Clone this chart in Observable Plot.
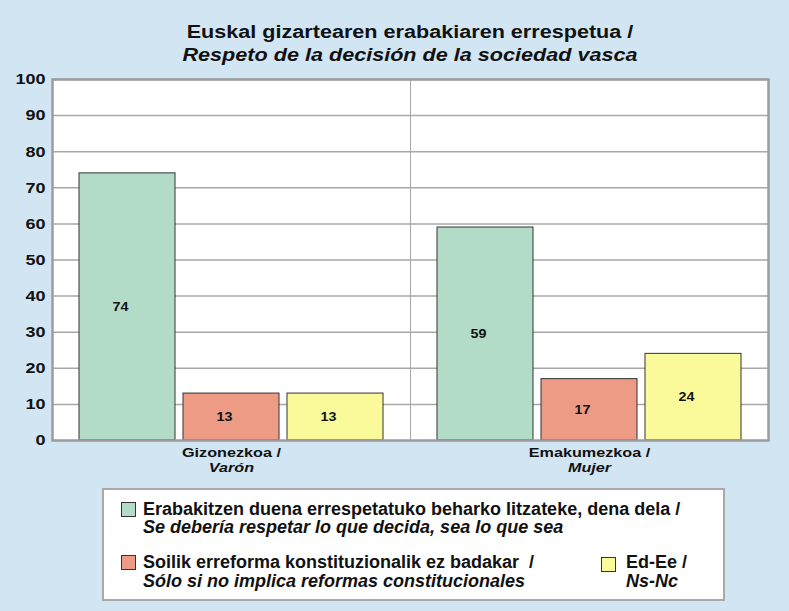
<!DOCTYPE html>
<html>
<head>
<meta charset="utf-8">
<script src="https://cdn.jsdelivr.net/npm/d3@7"></script>
<script src="https://cdn.jsdelivr.net/npm/@observablehq/plot@0.6"></script>
<style>
  html, body { margin: 0; padding: 0; }
  body { width: 789px; height: 611px; background: #d1e5f3; font-family: "Liberation Sans", Arial, sans-serif; position: relative; overflow: hidden; }
  #title { position: absolute; left: 0; top: 21px; width: 820px; text-align: center; font-weight: bold; font-size: 18px; line-height: 23px; color: #111; transform: scaleX(1.2); transform-origin: 50% 50%; }
  #title .es { font-style: italic; }
  #chart { position: absolute; left: 0; top: 72px; }
  #legend { position: absolute; left: 102px; top: 488px; width: 619px; height: 109px; background: #fff; border: 2px solid #a9a9a9; }
  .item { position: absolute; font-weight: bold; font-size: 18px; line-height: 18.5px; color: #111; white-space: pre; }
  .item .es { font-style: italic; }
  .sw { position: absolute; width: 13px; height: 13px; border: 1px solid #333; }
</style>
</head>
<body>
<div id="title"></div>
<div id="chart"></div>
<div id="legend"></div>
<script>
// ---- data ----
const titleEu = "Euskal gizartearen erabakiaren errespetua /";
const titleEs = "Respeto de la decisión de la sociedad vasca";
const groups = ["Gizonezkoa", "Emakumezkoa"];
const groupLabelsEu = ["Gizonezkoa /", "Emakumezkoa /"];
const groupLabelsEs = ["Varón", "Mujer"];
const seriesKeys = ["respect", "reform", "nsnc"];
const seriesEu = ["Erabakitzen duena errespetatuko beharko litzateke, dena dela /", "Soilik erreforma konstituzionalik ez badakar  /", "Ed-Ee /"];
const seriesEs = ["Se debería respetar lo que decida, sea lo que sea", "Sólo si no implica reformas constitucionales", "Ns-Nc"];
const seriesColors = ["#b3dcc8", "#ed9b85", "#fbfa9a"];
const respectValues = [74, 59];
const reformValues = [13, 17];
const nsncValues = [13, 24];
const yTicks = [0, 10, 20, 30, 40, 50, 60, 70, 80, 90, 100];

// ---- build table ----
const valuesBySeries = [respectValues, reformValues, nsncValues];
const data = [];
groups.forEach((g, gi) => seriesKeys.forEach((s, si) => data.push({group: g, series: s, value: valuesBySeries[si][gi]})));
const groupRows = groups.map((g, i) => ({group: g, eu: groupLabelsEu[i], es: groupLabelsEs[i]}));

// ---- title ----
document.getElementById("title").innerHTML = `<div>${titleEu}</div><div class="es">${titleEs}</div>`;

// ---- chart ----
const chart = Plot.plot({
  width: 789,
  height: 408,
  marginLeft: 52,
  marginRight: 21,
  marginTop: 7,
  marginBottom: 40,
  style: {background: "transparent", fontFamily: "Liberation Sans, Arial, sans-serif", fontSize: "15px", fontWeight: "bold", color: "#111", overflow: "visible"},
  fx: {domain: groups, padding: 0, axis: null, label: null},
  x: {domain: seriesKeys, paddingInner: 0.076, paddingOuter: 0.243, axis: null},
  y: {domain: [0, 100], ticks: yTicks, tickSize: 0, tickPadding: 7, label: null},
  color: {domain: seriesKeys, range: seriesColors},
  marks: [
    Plot.frame({fill: "#fff"}),
    Plot.ruleY(yTicks.slice(1), {stroke: "#a7a7a7", strokeWidth: 1.5, strokeOpacity: 1}),
    Plot.frame({stroke: "#a9a9a9", strokeWidth: 1}),
    Plot.barY(data, {fx: "group", x: "series", y: "value", fill: "series", stroke: "#333", strokeWidth: 1, inset: 0}),
    Plot.text(data, {fx: "group", x: "series", y: d => d.value / 2, text: d => String(d.value), dx: -7, fontSize: 13, fontWeight: "bold", fill: "#111"}),
    Plot.text(groupRows, {fx: "group", frameAnchor: "bottom", dy: 16, text: "eu", fontSize: 13.5, fontWeight: "bold", fill: "#111"}),
    Plot.text(groupRows, {fx: "group", frameAnchor: "bottom", dy: 31, text: "es", fontSize: 13.5, fontWeight: "bold", fontStyle: "italic", fill: "#111"}),
    Plot.frame({facet: "super", stroke: "#9c9c9c", strokeWidth: 2.5})
  ]
});
document.getElementById("chart").appendChild(chart);

// widen the SVG glyphs horizontally (about each text's own anchor point)
chart.querySelectorAll("text").forEach(el => {
  const t = el.textContent.trim();
  if (!t) return;
  const inAxis = el.closest('g[aria-label="y-axis tick label"]');
  const k = (!inAxis && /^\d+$/.test(t)) ? 1.1 : 1.2;
  const tr = el.getAttribute("transform");
  if (tr) {
    el.setAttribute("transform", tr + ` scale(${k},1)`);
  } else {
    const x = +el.getAttribute("x") || 0, y = +el.getAttribute("y") || 0;
    el.removeAttribute("x"); el.removeAttribute("y");
    el.setAttribute("transform", `translate(${x},${y}) scale(${k},1)`);
  }
});

// ---- legend ----
const legend = document.getElementById("legend");
const pos = [
  {sx: 17, sy: 12, tx: 39, ty: 9.5},
  {sx: 17, sy: 65, tx: 39, ty: 63},
  {sx: 497, sy: 67, tx: 522, ty: 63}
];
seriesKeys.forEach((s, i) => {
  const p = pos[i];
  const sw = document.createElement("div");
  sw.className = "sw";
  sw.style.left = p.sx + "px"; sw.style.top = p.sy + "px"; sw.style.background = seriesColors[i];
  legend.appendChild(sw);
  const it = document.createElement("div");
  it.className = "item";
  it.style.left = p.tx + "px"; it.style.top = p.ty + "px";
  it.innerHTML = `<div>${seriesEu[i]}</div><div class="es">${seriesEs[i]}</div>`;
  legend.appendChild(it);
});
</script>
</body>
</html>
